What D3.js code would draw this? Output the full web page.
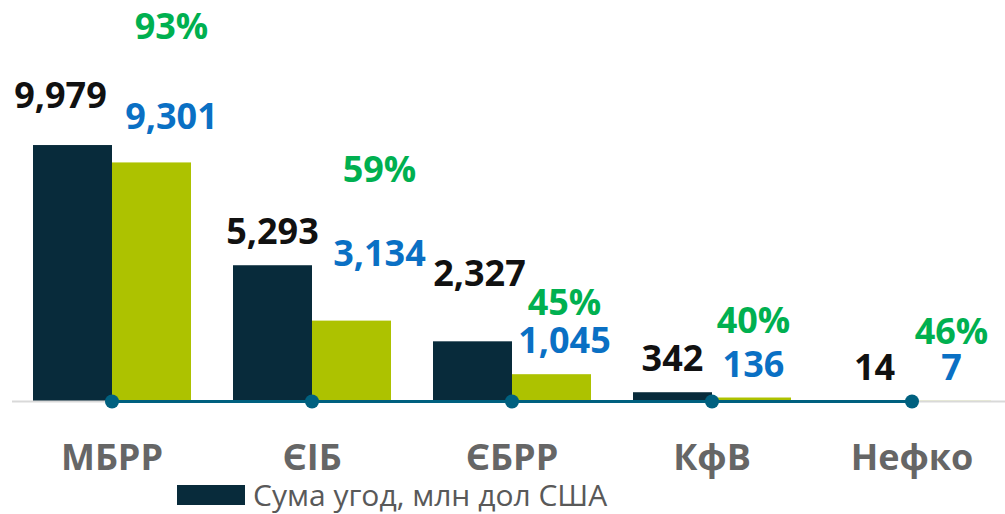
<!DOCTYPE html>
<html>
<head>
<meta charset="utf-8">
<script src="https://cdn.jsdelivr.net/npm/d3@7"></script>
<style>
  html, body { margin: 0; padding: 0; background: #fff; }
  svg { display: block; font-family: "Open Sans", "Noto Sans", sans-serif; }
</style>
</head>
<body>
<div class="chart"></div>
<script>
// data
const banks = ['МБРР', 'ЄІБ', 'ЄБРР', 'КфВ', 'Нефко'];
const dealSum = [9979, 5293, 2327, 342, 14];      // Сума угод, млн дол США
const disbursed = [9301, 3134, 1045, 136, 7];
const shareLabels = ['93%', '59%', '45%', '40%', '46%'];
const legendLabel = 'Сума угод, млн дол США';

// label nudges (manual placement as in the original slide)
const nudgeSum = [[-12, -16], [0, 0], [7, -34], [0, 0], [2, 0]];
const nudgeDisb = [[20, -12], [28, -34], [13, 0], [2, 0], [0, 0]];
const pctAbove = [90, 84, 38, 44, 36];

const width = 1005, height = 514;
const baseY = 401;

const svg = d3.select('.chart').append('svg')
  .attr('width', width).attr('height', height);

const x0 = d3.scaleBand().domain(banks).range([12, 1012]).padding(0);
const x1 = d3.scaleBand().domain(['sum', 'disb']).range([21, 179]).padding(0);
const y = d3.scaleLinear().domain([0, 10000]).range([baseY, baseY - 256.5]);

const rows = banks.map((b, i) => ({bank: b, sum: dealSum[i], disb: disbursed[i], pct: shareLabels[i], i}));

// bars
const groups = svg.append('g').selectAll('g').data(rows).join('g')
  .attr('transform', d => `translate(${x0(d.bank)},0)`);

groups.append('rect')
  .attr('x', x1('sum')).attr('width', x1.bandwidth())
  .attr('y', d => y(d.sum)).attr('height', d => baseY - y(d.sum))
  .attr('fill', '#082b3b');

groups.append('rect')
  .attr('x', x1('disb')).attr('width', x1.bandwidth())
  .attr('y', d => y(d.disb)).attr('height', d => baseY - y(d.disb))
  .attr('fill', '#adc200');

// axis line
svg.append('line')
  .attr('x1', 12).attr('x2', width).attr('y1', baseY + 0.5).attr('y2', baseY + 0.5)
  .attr('stroke', '#d9d9d9').attr('stroke-width', 2);

// teal line with markers
const centers = rows.map(d => x0(d.bank) + x0.bandwidth() / 2);
svg.append('path')
  .attr('d', d3.line()(centers.map(c => [c, baseY + 0.5])))
  .attr('stroke', '#00607f').attr('stroke-width', 3).attr('fill', 'none');
svg.append('g').selectAll('circle').data(centers).join('circle')
  .attr('cx', d => d).attr('cy', baseY + 0.5).attr('r', 7)
  .attr('fill', '#00607f');

// value labels
const fmt = d3.format(',');
groups.append('text')
  .attr('x', d => x1('sum') + x1.bandwidth() / 2 + nudgeSum[d.i][0])
  .attr('y', d => y(d.sum) - 21 + nudgeSum[d.i][1])
  .attr('text-anchor', 'middle')
  .style('font-size', '36px').style('font-weight', 700).style('fill', '#111')
  .text(d => fmt(d.sum));

groups.append('text')
  .attr('x', d => x1('disb') + x1.bandwidth() / 2 + nudgeDisb[d.i][0])
  .attr('y', d => y(d.disb) - 21 + nudgeDisb[d.i][1])
  .attr('text-anchor', 'middle')
  .style('font-size', '36px').style('font-weight', 700).style('fill', '#0a70c4')
  .text(d => fmt(d.disb));

groups.append('text')
  .attr('x', d => x1('disb') + x1.bandwidth() / 2 + nudgeDisb[d.i][0])
  .attr('y', d => y(d.disb) - 21 + nudgeDisb[d.i][1] - pctAbove[d.i])
  .attr('text-anchor', 'middle')
  .style('font-size', '36px').style('font-weight', 700).style('fill', '#00b050')
  .text(d => d.pct);

// category axis
const xAxis = d3.axisBottom(x0).tickSize(0).tickPadding(0);
const axisG = svg.append('g').attr('transform', `translate(0,${baseY})`).call(xAxis);
axisG.select('.domain').remove();
axisG.selectAll('text')
  .attr('y', 69).attr('dy', 0)
  .style('font-family', '"Open Sans", "Noto Sans", sans-serif')
  .style('font-size', '36px').style('font-weight', 700).style('fill', '#666');

// legend
const legend = svg.append('g').attr('transform', 'translate(177,485)');
legend.append('rect').attr('width', 68).attr('height', 20).attr('fill', '#082b3b');
legend.append('text').attr('x', 76).attr('y', 21)
  .style('font-size', '30px').style('fill', '#595959')
  .text(legendLabel);
</script>
</body>
</html>
